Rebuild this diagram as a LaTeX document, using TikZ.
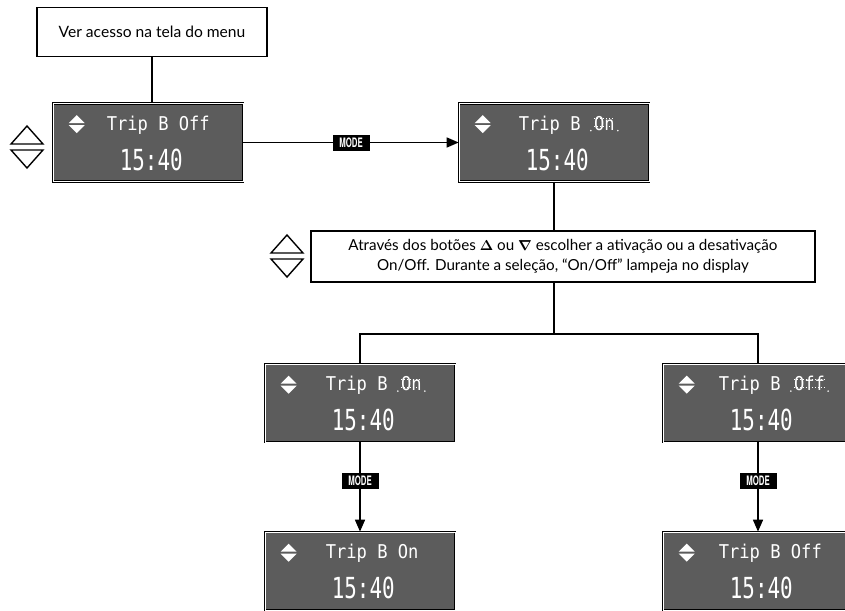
\documentclass[tikz,border=0pt]{standalone}
\usepackage{amsmath}
\usepackage{amssymb}
\usepackage{fontspec}
\setmainfont{Lato}
\newfontfamily\lcdsmall[FakeStretch=0.9]{DejaVu Sans Mono}
\newfontfamily\lcdbig[FakeStretch=0.72]{DejaVu Sans Mono}
\newfontfamily\modefont[FakeStretch=0.6]{TeX Gyre Heros}
\usetikzlibrary{arrows.meta,positioning}

\definecolor{lcdgray}{RGB}{92,92,92}

\tikzset{
  textbox/.style={draw, line width=1.6pt, fill=white, align=center, inner sep=0pt},
  lcd/.style={draw=black, double=white, double distance=0.7pt, line width=0.7pt,
              fill=lcdgray, minimum width=190, minimum height=78, inner sep=0pt},
  toptext/.style={text=white, font=\lcdsmall\fontsize{19}{19}\selectfont,
                  inner sep=0pt, anchor=base west},
  timetext/.style={text=white, font=\lcdbig\fontsize{29}{29}\selectfont,
                   inner sep=0pt, anchor=base west},
  modelabel/.style={fill=black, text=white, font=\modefont\bfseries\fontsize{13}{13}\selectfont,
                    minimum width=37, minimum height=16, inner sep=0pt},
  wire/.style={line width=1.6pt},
  modearrow/.style={wire, -{Triangle[length=12pt,width=10pt]}},
  blinkdots/.style={white, line width=0.8pt, dash pattern=on 1pt off 2pt},
  button/.style={line width=1.4pt, line join=miter},
}

\begin{document}
\begin{tikzpicture}[x=1pt,y=-1pt]

  \useasboundingbox (0,0) rectangle (845,610);

  % boxes with text
  \node[textbox, minimum width=230, minimum height=49, font=\fontsize{15.6}{18}\selectfont]
      (menu) at (152,32) {Ver acesso na tela do menu};
  \node[textbox, minimum width=504, minimum height=51, font=\fontsize{15.2}{20.5}\selectfont]
      (note) at (563,256.5) {Através dos botões $\boldsymbol{\Delta}$ ou $\boldsymbol{\nabla}$ escolher a ativação ou a desativação\\
      On/Off. Durante a seleção, “On/Off” lampeja no display};

  % displays
  \node[lcd] (d1) at (148,142.5) {};
  \node[lcd] (d2) at (554,142.5) {};
  \node[lcd] (d3) at (360,403) {};
  \node[lcd] (d4) at (758,403) {};
  \node[lcd] (d5) at (360,571) {};
  \node[lcd] (d6) at (758,571) {};

  % display texts
  \node[toptext] (d1a) at ([shift={(54,27)}]d1.north west) {Trip B Off};
  \node[toptext] (d2a) at ([shift={(60,27)}]d2.north west) {Trip B};
  \node[toptext] (d2w) at ([xshift=13]d2a.base east) {On};
  \node[toptext] (d3a) at ([shift={(61,27)}]d3.north west) {Trip B};
  \node[toptext] (d3w) at ([xshift=13]d3a.base east) {On};
  \node[toptext] (d4a) at ([shift={(56,27)}]d4.north west) {Trip B};
  \node[toptext] (d4w) at ([xshift=13]d4a.base east) {Off};
  \node[toptext] (d5a) at ([shift={(61,27)}]d5.north west) {Trip B On};
  \node[toptext] (d6a) at ([shift={(56,27)}]d6.north west) {Trip B Off};
  \foreach \disp in {d1,d2,d3,d4,d5,d6} {
    \node[timetext] (\disp t) at ([shift={(67,67)}]\disp.north west) {15:40};
    % up/down sign
    \fill[white] ([shift={(16,20)}]\disp.north west) -- ++(16,0) -- ++(-8,-8) -- cycle;
    \fill[white] ([shift={(16,22)}]\disp.north west) -- ++(16,0) -- ++(-8,8) -- cycle;
  }

  % blinking words
  \foreach \w in {d2w,d3w,d4w} {
    \draw[blinkdots] ([yshift=-3]\w.north west) -- ([yshift=-3]\w.north east);
    \draw[blinkdots] ([yshift=4]\w.south west) -- ([yshift=4]\w.south east);
    \fill[white] ([xshift=-3]\w.south west) circle (0.9);
    \fill[white] ([xshift=3]\w.south east) circle (0.9);
  }

  % buttons
  \foreach \bx/\by in {27/147, 287/256} {
    \draw[button] (\bx-16,\by-3) -- (\bx+16,\by-3) -- (\bx,\by-21) -- cycle;
    \draw[button] (\bx-16,\by+3) -- (\bx+16,\by+3) -- (\bx,\by+21) -- cycle;
  }

  % connectors
  \coordinate (split) at (554,334);
  \draw[wire] (menu.south) -- (menu.south |- d1.north);
  \draw[modearrow] (d1) -- (d2) node[modelabel, midway] {MODE};
  \draw[wire] (d2.south) -- (d2.south |- note.north);
  \draw[wire] (d2.south |- note.south) -- (split);
  \draw[wire] (d3.north) |- (split) -| (d4.north);
  \draw[modearrow] (d3) -- (d5) node[modelabel, pos=0.43] {MODE};
  \draw[modearrow] (d4) -- (d6) node[modelabel, pos=0.43] {MODE};

\end{tikzpicture}
\end{document}
